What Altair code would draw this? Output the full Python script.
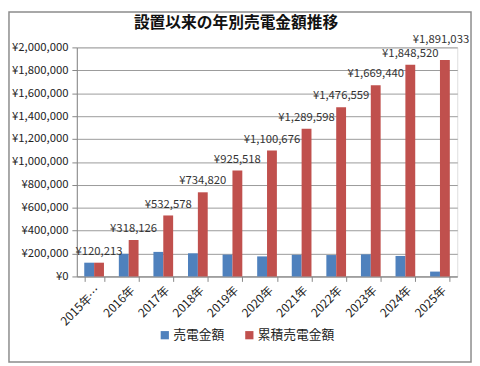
import altair as alt
import pandas as pd

years = ["2015年…", "2016年", "2017年", "2018年", "2019年", "2020年",
         "2021年", "2022年", "2023年", "2024年", "2025年"]
annual = [120213, 197913, 214452, 202242, 190698, 175158,
          188922, 186961, 192881, 179080, 42513]
cumulative = [120213, 318126, 532578, 734820, 925518, 1100676,
              1289598, 1476559, 1669440, 1848520, 1891033]
series = ["売電金額", "累積売電金額"]
colors = ["#4F81BD", "#C0504D"]
title_text = "設置以来の年別売電金額推移"

rows = []
for i, y in enumerate(years):
    rows.append({"year": y, "series": series[0], "value": annual[i], "order": i})
    rows.append({"year": y, "series": series[1], "value": cumulative[i], "order": i})
df = pd.DataFrame(rows)

FONT = "Noto Sans CJK JP"

x = alt.X("year:N", sort=years, title=None,
          scale=alt.Scale(paddingInner=0.43, paddingOuter=0.215),
          axis=alt.Axis(labelAngle=-45, labelAlign="right", labelBaseline="top",
                        tickBand="extent", tickSize=5, tickColor="#868686",
                        domainColor="#868686", labelPadding=3, labelFontSize=12,
                        labelColor="#222", labelFont=FONT))
xo = alt.XOffset("series:N", sort=series, scale=alt.Scale(paddingInner=0))
y = alt.Y("value:Q", title=None,
          scale=alt.Scale(domain=[0, 2000000]),
          axis=alt.Axis(values=list(range(0, 2000001, 200000)),
                        labelExpr="'¥' + format(datum.value, ',')",
                        grid=True, gridColor="#9a9a9a", tickSize=5,
                        tickColor="#868686", domainColor="#868686",
                        labelPadding=4, labelFontSize=11.5, labelColor="#222",
                        labelFont=FONT))

bars = alt.Chart(df).mark_bar().encode(
    x=x, xOffset=xo, y=y,
    color=alt.Color("series:N", sort=series,
                    scale=alt.Scale(domain=series, range=colors),
                    legend=alt.Legend(title=None, orient="none", direction="horizontal",
                                      legendX=83, legendY=286, symbolType="square",
                                      symbolSize=70, symbolStrokeWidth=0,
                                      labelFontSize=13, labelFont=FONT,
                                      labelColor="#222", columnPadding=18,
                                      labelOffset=2)),
)

base_text = alt.Chart(df).transform_filter(alt.datum.series == series[1]).transform_calculate(
    lbl="'¥' + format(datum.value, ',')")

labels = base_text.transform_filter(alt.datum.year != years[-1]).mark_text(
    baseline="bottom", dy=-6, fontSize=11.5, font=FONT, color="#333"
).encode(x=x, xOffset=xo, y=y, text=alt.Text("lbl:N"))

last = base_text.transform_filter(alt.datum.year == years[-1]).mark_text(
    baseline="bottom", dy=-15, dx=-4, fontSize=11.5, font=FONT, color="#333"
).encode(x=x, xOffset=xo, y=y, text=alt.Text("lbl:N"))

title = alt.Chart(pd.DataFrame({"t": [title_text]})).mark_text(
    font=FONT, fontSize=16, fontWeight="bold", color="#111",
    align="center", baseline="middle"
).encode(x=alt.value(162), y=alt.value(-25), text="t:N")

border = alt.Chart(pd.DataFrame({"a": [0]})).mark_rect(
    fill=None, stroke="#8c8c8c", strokeWidth=1.5
).encode(x=alt.value(-69), x2=alt.value(401), y=alt.value(-36), y2=alt.value(320))

chart = alt.layer(bars, labels, last, title, border).properties(
    width=387, height=233,
    autosize=alt.AutoSizeParams(type="none"),
    padding={"left": 70, "top": 37, "right": 15, "bottom": 88},
).configure_view(stroke=None).configure(background="white")

chart.save("out.html", embed_options={"renderer": "svg", "actions": False})
